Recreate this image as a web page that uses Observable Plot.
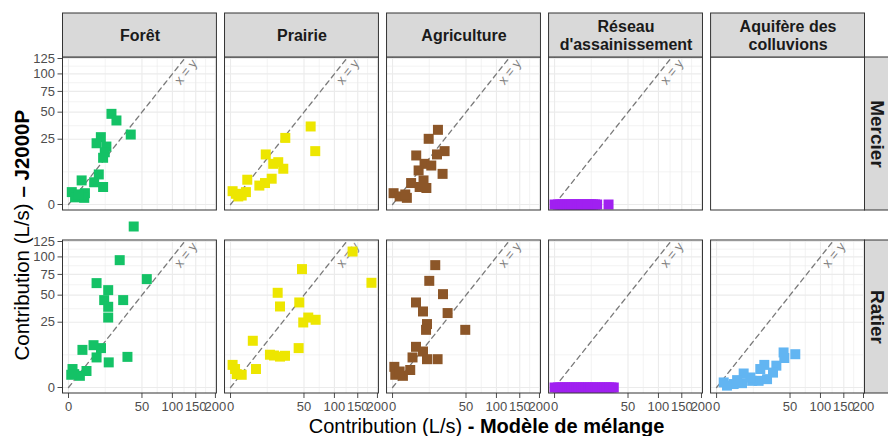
<!DOCTYPE html>
<html>
<head>
<meta charset="utf-8">
<script src="https://cdn.jsdelivr.net/npm/d3@7"></script>
<script src="https://cdn.jsdelivr.net/npm/@observablehq/plot@0.6"></script>
<style>
  html, body { margin: 0; padding: 0; background: #fff; }
  #chart svg { display: block; }
</style>
</head>
<body>
<div id="chart"></div>
<script>
// ---- categories ----
const sources = ["Forêt", "Prairie", "Agriculture", "Réseau d'assainissement", "Aquifère des colluvions"];
const stripLabels = ["Forêt", "Prairie", "Agriculture", "Réseau\nd'assainissement", "Aquifère des\ncolluvions"];
const sites = ["Mercier", "Ratier"];
const colors = ["#14C266", "#EDE600", "#8C5628", "#A020F0", "#62B5F2"];

// ---- ticks ----
const xTicks = [0, 50, 100, 150, 200];
const yTicks = [0, 25, 50, 75, 100, 125];
const xMinor = [12.5, 72.9, 123.7, 174.1];
const yMinor = [6.25, 36.4, 61.9, 87.0, 112.2];
const identityRange = [0, 127];
const identityLabelAt = 103;

// ---- titles ----
const xTitle = ["Contribution (L/s)", "- Modèle de mélange"];
const yTitle = ["Contribution (L/s)", "– J2000P"];

// ---- series: [Modèle de mélange, J2000P] (L/s) ----
const foretMercier = [[17.1,48.2],[21.3,41.4],[35.9,28.7],[9.7,26.6],[7.3,22],[13.3,19.7],[12.2,16],[11.1,12.8],[8.5,5.3],[6.1,2.9],[1.6,3.4],[11.1,1.8],[2.5,0.75],[0.1,0.9],[0.4,0.3],[2.3,0.26],[1.0,0.6]];
const foretRatier = [[39.4,152],[24.3,95.1],[56.8,68.9],[7.3,63.9],[14.6,55.6],[11.8,44.8],[27.7,44.8],[14.6,38.2],[14.6,28.7],[1.8,8.3],[5.8,10.5],[9.8,9.1],[7.3,5.3],[32.2,5.5],[15,3.7],[3,1.6],[0.15,2],[0.3,1.05],[1.2,0.8],[0.07,0.95]];
const prairieMercier = [[59.5,35.7],[66.5,16.7],[27.8,26],[11.5,14.7],[21.1,10.5],[25.8,7.5],[16.9,9.7],[15.7,3.9],[11,2.7],[7.7,2.1],[2.6,3.6],[2.2,0.9],[0.04,1.04],[0.56,0.38],[0.28,0.67],[1.16,0.47]];
const prairieRatier = [[138,108.4],[184,64.3],[47.3,82.2],[20.6,52.6],[22.7,38.5],[43.8,42.4],[49,24.8],[56,28.7],[67.1,26.9],[4.6,12.8],[43,9.1],[14.4,6.3],[17.5,6],[22.7,5.6],[27.5,5.9],[6,2],[0.04,3],[0.19,2],[0.36,1.05],[1.16,0.95]];
const agriMercier = [[19.1,32.7],[12.1,25.3],[25.1,16.7],[18.3,14.7],[5.2,14.1],[9.5,9.7],[13.9,8.9],[23.2,5.5],[6.3,6.8],[3.2,2.7],[8.9,3.4],[10.6,1.6],[6.8,1.8],[0.01,0.75],[0.47,0.38],[1.9,0.26],[1.5,0.59]];
const agriRatier = [[16.9,87.8],[12.5,66.7],[23.6,51.1],[5.1,42.4],[8.6,33.9],[28.1,32.5],[11,23.6],[10.4,19.5],[49,19.5],[5.1,9.7],[3.7,5.3],[8.6,7.6],[11,4.7],[18.8,4.7],[2.9,1.8],[0.03,2.5],[0.07,0.95],[1,0.8],[0.47,1.5]];
const reseauMercier = [[0,0],[0.1,0],[0.3,0],[0.6,0],[1,0],[1.5,0],[2,0],[2.6,0],[3.3,0],[4,0],[4.8,0],[5.6,0],[6.5,0],[7.5,0],[8.6,0],[9.8,0],[11,0],[12.3,0],[13.7,0],[15.2,0],[16.8,0],[27,0]];
const reseauRatier = [[0,0],[0.1,0],[0.3,0],[0.6,0],[1,0],[1.5,0],[2.1,0],[2.8,0],[3.6,0],[4.5,0],[5.5,0],[6.6,0],[7.8,0],[9.1,0],[10.5,0],[12,0],[13.6,0],[15.3,0],[17.1,0],[19,0],[21,0],[23.1,0],[25.3,0],[27.6,0],[30,0],[32.5,0]];
const aquifereRatier = [[57.4,6.5],[41.6,7.2],[42.5,5.1],[33.1,2.8],[29.5,1.3],[21.1,3],[17.7,2],[16.4,0.26],[11.7,0.26],[6.8,1.15],[6,0.11],[2.7,0.07],[0.47,0.15],[1,0.02],[10.6,0.59],[23.6,0.41],[3.9,0.32]];

const panelSeries = [
  ["Forêt", "Mercier", foretMercier], ["Forêt", "Ratier", foretRatier],
  ["Prairie", "Mercier", prairieMercier], ["Prairie", "Ratier", prairieRatier],
  ["Agriculture", "Mercier", agriMercier], ["Agriculture", "Ratier", agriRatier],
  ["Réseau d'assainissement", "Mercier", reseauMercier], ["Réseau d'assainissement", "Ratier", reseauRatier],
  ["Aquifère des colluvions", "Ratier", aquifereRatier]
];

// ---- tables built from the arrays ----
const points = panelSeries.flatMap(([source, site, arr]) => arr.map(([x, y]) => ({source, site, x, y})));
const active = panelSeries.map(([source, site]) => ({source, site}));
const allPanels = sites.flatMap(site => sources.map(source => ({source, site})));
const cross = (vals) => active.flatMap(p => vals.map(v => ({...p, v})));
const topStrips = sources.map((source, i) => ({source, site: sites[0], label: stripLabels[i]}));
const rightStrips = sites.map(site => ({source: sources[sources.length - 1], site, label: site}));
const xTitleAnchor = [{source: "Agriculture", site: "Ratier"}];
const yTitleAnchor = [{source: "Forêt", site: "Mercier"}];

const FX = {fx: "source", fy: "site"};
const bandX = 802 / 4.95 * 0.95;
const bandY = 153;

const chart = Plot.plot({
  width: 888,
  height: 436,
  marginLeft: 62.5,
  marginRight: 23.5,
  marginTop: 57,
  marginBottom: 43,
  style: {fontFamily: "'Liberation Sans', Arial, sans-serif", fontSize: "13px", color: "#4d4d4d", background: "#fff"},
  fx: {domain: sources, axis: null, paddingInner: 0.05, paddingOuter: 0, round: false},
  fy: {domain: sites, axis: null, paddingInner: 30 / 183, paddingOuter: 0, round: false},
  x: {type: "sqrt", domain: [0, 200], ticks: xTicks, tickSize: 5, tickPadding: 3, label: null, insetLeft: 5.5, insetRight: 1.5},
  y: {type: "sqrt", domain: [0, 125], ticks: yTicks, tickSize: 5, tickPadding: 3, label: null, insetTop: 1, insetBottom: 6},
  color: {domain: sources, range: colors},
  marks: [
    Plot.rect(allPanels, {...FX, fill: "#fff"}),
    Plot.ruleX(cross(xMinor), {...FX, x: "v", stroke: "#EBEBEB", strokeWidth: 0.6}),
    Plot.ruleY(cross(yMinor), {...FX, y: "v", stroke: "#EBEBEB", strokeWidth: 0.6}),
    Plot.ruleX(cross(xTicks), {...FX, x: "v", stroke: "#EBEBEB", strokeWidth: 1.1}),
    Plot.ruleY(cross(yTicks), {...FX, y: "v", stroke: "#EBEBEB", strokeWidth: 1.1}),
    Plot.line(cross(identityRange), {...FX, x: "v", y: "v", stroke: "#7A7A7A", strokeWidth: 1.3, strokeDasharray: "5,4"}),
    Plot.text(cross([identityLabelAt]), {...FX, x: "v", y: "v", text: () => "x = y", rotate: -51.4, dx: 12, dy: 0, fill: "#7F7F7F", fontSize: 13}),
    Plot.dot(points, {...FX, x: "x", y: "y", fill: "source", symbol: "square", r: 5.64, stroke: "none"}),
    Plot.rect(allPanels, {...FX, fill: "none", stroke: "#333333", strokeWidth: 1}),
    // top strips
    Plot.rect(topStrips, {...FX, fill: "#D9D9D9", stroke: "#333333", strokeWidth: 1, insetTop: -44, insetBottom: bandY}),
    Plot.text(topStrips, {...FX, text: "label", frameAnchor: "top", dy: -22, lineAnchor: "middle", textAnchor: "middle", fontWeight: "bold", fontSize: 16, fill: "#1A1A1A", lineHeight: 1.1}),
    // right strips
    Plot.rect(rightStrips, {...FX, fill: "#D9D9D9", stroke: "#333333", strokeWidth: 1, insetLeft: bandX, insetRight: -40}),
    Plot.text(rightStrips, {...FX, text: "label", frameAnchor: "right", dx: 12.5, rotate: 90, textAnchor: "middle", lineAnchor: "middle", fontWeight: "bold", fontSize: 19, fill: "#1A1A1A"}),
    // axis titles
    Plot.text(xTitleAnchor, {...FX, text: () => xTitle[0], frameAnchor: "bottom", dy: 33.5, dx: -1.9, textAnchor: "end", lineAnchor: "middle", fontSize: 20, fill: "#000"}),
    Plot.text(xTitleAnchor, {...FX, text: () => xTitle[1], frameAnchor: "bottom", dy: 33.5, dx: 3.7, textAnchor: "start", lineAnchor: "middle", fontSize: 20, fontWeight: "bold", fill: "#000"}),
    Plot.text(yTitleAnchor, {...FX, text: () => yTitle[0], frameAnchor: "left", dx: -41, dy: 69.3, rotate: -90, textAnchor: "end", lineAnchor: "middle", fontSize: 20.5, fill: "#000"}),
    Plot.text(yTitleAnchor, {...FX, text: () => yTitle[1], frameAnchor: "left", dx: -41, dy: 63.6, rotate: -90, textAnchor: "start", lineAnchor: "middle", fontSize: 20.5, fontWeight: "bold", fill: "#000"})
  ]
});
document.getElementById("chart").appendChild(chart);
</script>
</body>
</html>
